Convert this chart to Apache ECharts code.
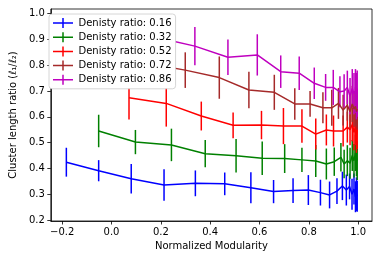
<!DOCTYPE html>
<html>
<head>
<meta charset="utf-8">
<script src="https://cdn.jsdelivr.net/npm/echarts@6/dist/echarts.min.js"></script>
<style>
html,body{margin:0;padding:0;background:#fff;}
#chart{width:382px;height:259px;}
</style>
</head>
<body>
<div id="chart"></div>
<script>
// ---- data ----
const seriesNames = ['Denisty ratio: 0.16','Denisty ratio: 0.32','Denisty ratio: 0.52','Denisty ratio: 0.72','Denisty ratio: 0.86'];
const seriesColors = ['#0000ff','#008000','#ff0000','#a52a2a','#bf00bf'];

const blueX   = [-0.183,-0.052,0.080,0.213,0.340,0.459,0.565,0.657,0.736,0.798,0.847,0.884,0.914,0.936,0.952,0.965,0.975,0.983,0.989,0.993,0.996];
const blueY   = [0.424,0.391,0.360,0.336,0.342,0.340,0.325,0.310,0.314,0.316,0.306,0.297,0.312,0.332,0.316,0.330,0.300,0.320,0.290,0.300,0.292];
const blueErr = [0.056,0.041,0.057,0.061,0.050,0.044,0.060,0.045,0.048,0.058,0.050,0.052,0.050,0.055,0.060,0.050,0.060,0.060,0.060,0.065,0.060];

const greenX   = [-0.052,0.097,0.243,0.380,0.505,0.611,0.702,0.772,0.828,0.871,0.903,0.930,0.943,0.956,0.967,0.976,0.983,0.989,0.993,0.996];
const greenY   = [0.545,0.502,0.491,0.457,0.449,0.439,0.438,0.433,0.429,0.417,0.426,0.443,0.417,0.430,0.420,0.450,0.430,0.460,0.440,0.430];
const greenErr = [0.063,0.047,0.063,0.053,0.065,0.065,0.056,0.047,0.062,0.060,0.055,0.055,0.055,0.060,0.060,0.060,0.065,0.070,0.070,0.075];

const redX   = [0.071,0.222,0.364,0.493,0.608,0.697,0.772,0.828,0.871,0.900,0.939,0.956,0.967,0.976,0.983,0.989,0.993,0.996];
const redY   = [0.674,0.652,0.603,0.567,0.568,0.564,0.564,0.533,0.549,0.545,0.545,0.560,0.550,0.570,0.540,0.560,0.530,0.550];
const redErr = [0.084,0.090,0.056,0.050,0.055,0.070,0.065,0.060,0.060,0.060,0.060,0.060,0.060,0.065,0.070,0.070,0.070,0.075];

const brownX   = [0.160,0.299,0.437,0.557,0.660,0.743,0.805,0.857,0.893,0.920,0.939,0.956,0.967,0.976,0.983,0.989,0.993,0.996];
const brownY   = [0.805,0.781,0.752,0.704,0.695,0.650,0.650,0.635,0.635,0.652,0.626,0.645,0.620,0.650,0.630,0.640,0.620,0.630];
const brownErr = [0.070,0.069,0.082,0.071,0.068,0.061,0.050,0.060,0.070,0.060,0.060,0.060,0.065,0.070,0.070,0.075,0.080,0.080];

const magentaX   = [0.220,0.338,0.472,0.591,0.686,0.761,0.822,0.868,0.899,0.926,0.943,0.956,0.967,0.976,0.983,0.989,0.993,0.996];
const magentaY   = [0.900,0.874,0.831,0.840,0.775,0.769,0.730,0.714,0.714,0.697,0.700,0.714,0.680,0.710,0.690,0.700,0.680,0.690];
const magentaErr = [0.080,0.074,0.069,0.080,0.063,0.065,0.061,0.052,0.068,0.060,0.065,0.065,0.070,0.075,0.080,0.085,0.090,0.090];

const xTicks = [-0.2,0.0,0.2,0.4,0.6,0.8,1.0];
const yTicks = [0.2,0.3,0.4,0.5,0.6,0.7,0.8,0.9,1.0];

const allX = [blueX, greenX, redX, brownX, magentaX];
const allY = [blueY, greenY, redY, brownY, magentaY];
const allErr = [blueErr, greenErr, redErr, brownErr, magentaErr];

// ---- chart ----
const FONT = 'DejaVu Sans';
const crossIcon = 'path://M0,4.25 L9.25,4.25 L9.25,0 L10.75,0 L10.75,4.25 L20,4.25 L20,5.75 L10.75,5.75 L10.75,10 L9.25,10 L9.25,5.75 L0,5.75 Z';
const fmt = v => (v < -1e-9 ? '\u2212' : '') + Math.abs(v).toFixed(1);

const series = [];
for (let i = 0; i < 5; i++) {
  const pts = allX[i].map((x, k) => [x, allY[i][k], allErr[i][k]]);
  series.push({
    name: seriesNames[i],
    type: 'line',
    data: pts.map(p => [p[0], p[1]]),
    symbol: 'none',
    showSymbol: false,
    lineStyle: {color: seriesColors[i], width: 1.5},
    itemStyle: {color: seriesColors[i]},
    silent: true,
    animation: false
  });
  series.push({
    name: seriesNames[i] + ' err',
    type: 'custom',
    data: pts,
    dimensions: ['x','y','e'],
    encode: {x: 0, y: 1},
    silent: true,
    animation: false,
    renderItem: (params, api) => {
      const x = api.value(0), y = api.value(1), e = api.value(2);
      const a = api.coord([x, y - e]);
      const b = api.coord([x, y + e]);
      return {
        type: 'line',
        shape: {x1: a[0], y1: a[1], x2: b[0], y2: b[1]},
        style: {stroke: seriesColors[i], lineWidth: 1.5}
      };
    }
  });
}

const chart = echarts.init(document.getElementById('chart'), null, {renderer: 'canvas'});
chart.setOption({
  animation: false,
  backgroundColor: '#fff',
  textStyle: {fontFamily: FONT},
  grid: {left: 44, right: 10, top: 9, bottom: 38, show: true, borderColor: '#000', borderWidth: 0.8, backgroundColor: 'transparent'},
  legend: {
    orient: 'vertical',
    left: 49, top: 14,
    padding: [3, 4, 3, 4],
    itemGap: 2.2,
    itemWidth: 21, itemHeight: 10,
    backgroundColor: '#fff',
    borderColor: '#cccccc', borderWidth: 0.8, borderRadius: 3,
    textStyle: {fontFamily: FONT, fontSize: 10, color: '#000', lineHeight: 12},
    itemStyle: {borderWidth: 0},
    data: seriesNames.map(n => ({name: n, icon: crossIcon}))
  },
  xAxis: {
    type: 'value',
    min: -0.246, max: 1.056,
    name: 'Normalized Modularity',
    nameLocation: 'middle',
    nameGap: 20,
    nameTextStyle: {fontFamily: FONT, fontSize: 10, color: '#000'},
    axisLine: {show: true, onZero: false, lineStyle: {color: '#000', width: 0.8}},
    axisTick: {show: true, length: 3.5, lineStyle: {color: '#000', width: 0.8}, customValues: xTicks},
    axisLabel: {fontFamily: FONT, fontSize: 10, color: '#000', margin: 6, customValues: xTicks, formatter: fmt},
    splitLine: {show: false}
  },
  yAxis: {
    type: 'value',
    min: 0.196, max: 1.018,
    name: 'Cluster length ratio (\u2113\u2081/\u2113\u2082)',
    nameLocation: 'middle',
    nameGap: 27,
    nameRotate: 90,
    nameTextStyle: {fontFamily: FONT, fontSize: 10, color: '#000'},
    axisLine: {show: true, onZero: false, lineStyle: {color: '#000', width: 0.8}},
    axisTick: {show: true, length: 3.5, lineStyle: {color: '#000', width: 0.8}, customValues: yTicks},
    axisLabel: {fontFamily: FONT, fontSize: 10, color: '#000', margin: 6, customValues: yTicks, formatter: fmt},
    splitLine: {show: false}
  },
  series: series
});
</script>
</body>
</html>
